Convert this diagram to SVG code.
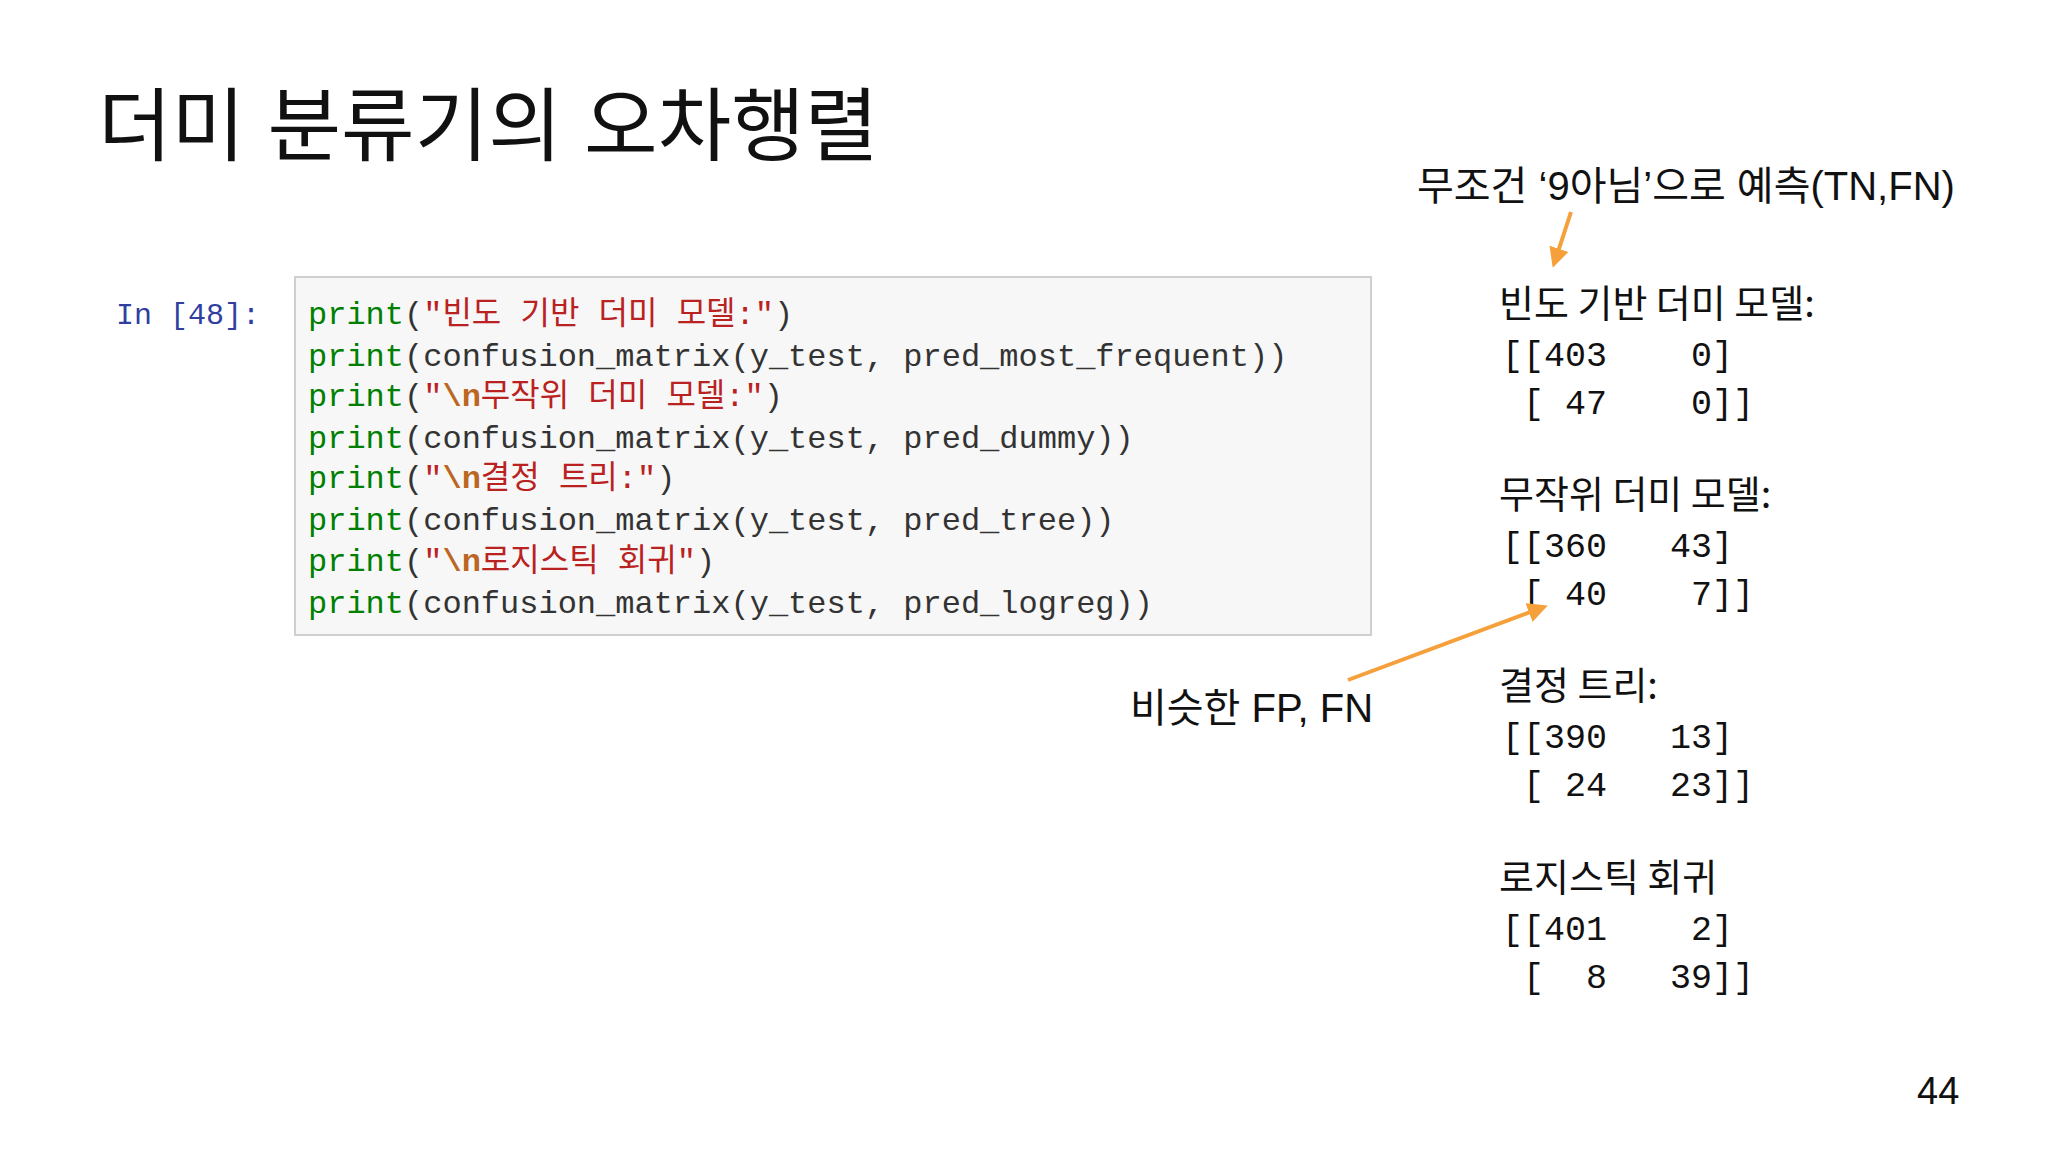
<svg xmlns="http://www.w3.org/2000/svg" width="2048" height="1152" viewBox="0 0 2048 1152">
<defs>
<style>
.sans{font-family:"Liberation Sans","Noto Sans CJK KR",sans-serif;fill:#111}
.code{font-family:"Liberation Mono","Noto Sans CJK KR",monospace;font-size:32px;fill:#333}
.kw{fill:#008000}
.str{fill:#ba2121}
.esc{fill:#bb6622;font-weight:bold}
.out{font-family:"Liberation Mono","Noto Sans CJK KR",monospace;font-size:35px;fill:#111}
.head{font-family:"Noto Sans CJK KR",sans-serif;font-size:38px;fill:#111}
.arr{stroke:#f5a03a;stroke-width:4;fill:none}
</style>
<marker id="ah" viewBox="0 0 10 10" refX="8" refY="5" markerWidth="5" markerHeight="5" orient="auto"><path d="M0,0 L10,5 L0,10 z" fill="#f5a03a"/></marker>
</defs>
<rect width="2048" height="1152" fill="#ffffff"/>
<g id="title"><text class="sans" x="98" y="154" font-size="80">더미 분류기의 오차행렬</text></g>
<g id="codecell">
<rect x="295" y="277" width="1076" height="358" fill="#f7f7f7" stroke="#cfcfcf" stroke-width="2"/>
<text x="116" y="324" font-family="Liberation Mono,monospace" font-size="30" fill="#303f9f">In [48]:</text>
<text class="code" x="308" y="324"><tspan class="kw">print</tspan>(<tspan class="str">"빈도 기반 더미 모델:"</tspan>)</text>
<text class="code" x="308" y="366"><tspan class="kw">print</tspan>(confusion_matrix(y_test, pred_most_frequent))</text>
<text class="code" x="308" y="406"><tspan class="kw">print</tspan>(<tspan class="str">"<tspan class="esc">\n</tspan>무작위 더미 모델:"</tspan>)</text>
<text class="code" x="308" y="448"><tspan class="kw">print</tspan>(confusion_matrix(y_test, pred_dummy))</text>
<text class="code" x="308" y="488"><tspan class="kw">print</tspan>(<tspan class="str">"<tspan class="esc">\n</tspan>결정 트리:"</tspan>)</text>
<text class="code" x="308" y="530"><tspan class="kw">print</tspan>(confusion_matrix(y_test, pred_tree))</text>
<text class="code" x="308" y="571"><tspan class="kw">print</tspan>(<tspan class="str">"<tspan class="esc">\n</tspan>로지스틱 회귀"</tspan>)</text>
<text class="code" x="308" y="613"><tspan class="kw">print</tspan>(confusion_matrix(y_test, pred_logreg))</text>
</g>
<g id="output">
<text class="head" x="1499" y="317">빈도 기반 더미 모델:</text>
<text class="out" x="1502" y="366" xml:space="preserve">[[403    0]</text>
<text class="out" x="1502" y="414" xml:space="preserve"> [ 47    0]]</text>
<text class="head" x="1499" y="508">무작위 더미 모델:</text>
<text class="out" x="1502" y="557" xml:space="preserve">[[360   43]</text>
<text class="out" x="1502" y="605" xml:space="preserve"> [ 40    7]]</text>
<text class="head" x="1499" y="699">결정 트리:</text>
<text class="out" x="1502" y="748" xml:space="preserve">[[390   13]</text>
<text class="out" x="1502" y="796" xml:space="preserve"> [ 24   23]]</text>
<text class="head" x="1499" y="891">로지스틱 회귀</text>
<text class="out" x="1502" y="940" xml:space="preserve">[[401    2]</text>
<text class="out" x="1502" y="988" xml:space="preserve"> [  8   39]]</text>
</g>
<g id="note1"><text class="sans" x="1417" y="200" font-size="40">무조건 ‘9아님’으로 예측(TN,FN)</text></g>
<g id="note2"><text class="sans" x="1130" y="722" font-size="40">비슷한 FP, FN</text></g>
<g id="page"><text class="sans" x="1917" y="1104" font-size="38">44</text></g>
<g id="connectors">
<line class="arr" x1="1571" y1="212" x2="1554" y2="264" marker-end="url(#ah)"/>
<line class="arr" x1="1348" y1="680" x2="1544" y2="607" marker-end="url(#ah)"/>
</g>
</svg>
